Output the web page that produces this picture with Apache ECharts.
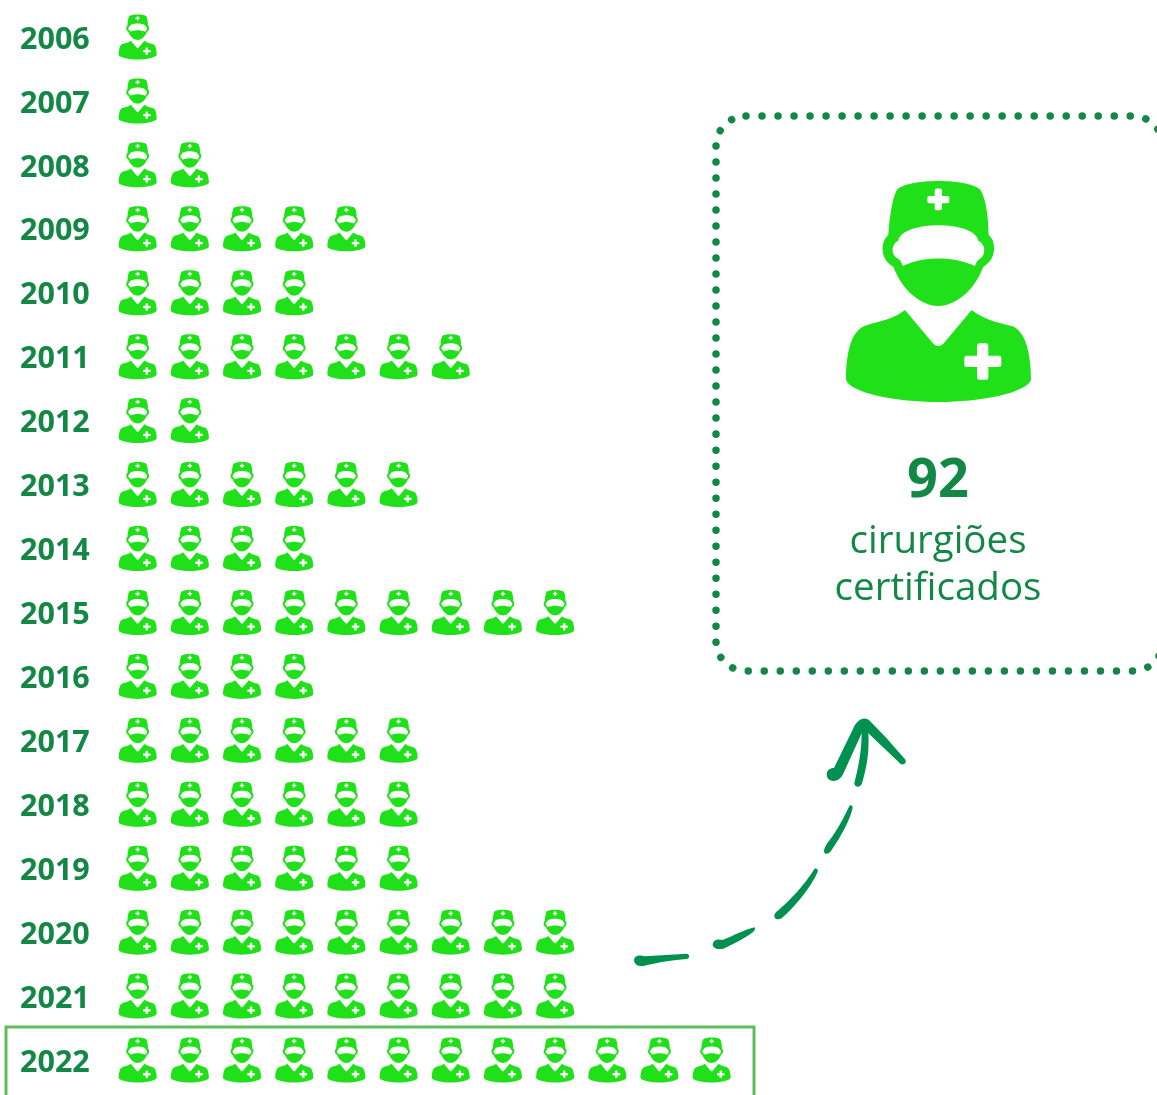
<!DOCTYPE html>
<html lang="pt">
<head>
	<meta charset="UTF-8">
	<style>
		html,body{margin:0;padding:0;background:#fff;overflow:hidden;}
	</style>
</head>
<body>
<div id="chart" style="width:1157px;height:1095px;"></div>

<script src="https://cdn.jsdelivr.net/npm/echarts@6/dist/echarts.min.js"></script>
<script>
  var years=['2006','2007','2008','2009','2010','2011','2012','2013','2014','2015','2016','2017','2018','2019','2020','2021','2022'];
  var surgeons=[1,1,2,5,4,7,2,6,4,9,4,6,6,6,9,9,12];
  var totalLabel='92';
  var captionLines=['cirurgiões','certificados'];

  var GREEN='#20e01a';
  var DARK='#138846';
  var ARROW='#009150';

  // surgeon icon, drawn in a 660x720 box. holes wind the other way round
  var body='M225,420 L310,522 Q325,537 340,522 L425,420 C470,455 520,460 550,470 C590,490 603,560 603,630 C590,670 450,697 325,697 C200,697 60,670 48,630 C48,560 60,490 100,470 C130,455 180,455 225,420 Z '+
    'M441,527 L441,558 L410,558 Q403,558 403,565 L403,585 Q403,592 410,592 L441,592 L441,623 Q441,630 448,630 L468,630 Q475,630 475,623 L475,592 L507,592 Q514,592 514,585 L514,565 Q514,558 507,558 L475,558 L475,527 Q475,520 468,520 L448,520 Q441,520 441,527 Z ';
  var head='M200,60 C230,23 420,23 452,60 C470,90 475,150 476,195 C500,215 500,270 460,290 C430,370 370,408 325,408 C280,408 220,370 190,290 C150,270 150,215 175,195 C178,150 185,90 200,60 Z '+
    'M205,212 C185,220 182,250 198,262 C210,268 215,275 218,288 C280,258 370,258 435,288 C438,275 445,268 455,262 C468,250 465,220 445,212 C435,150 215,150 205,212 Z '+
    'M314,62 L314,77 L298,77 Q292,77 292,83 L292,93 Q292,99 298,99 L314,99 L314,114 Q314,120 320,120 L330,120 Q336,120 336,114 L336,99 L352,99 Q358,99 358,93 L358,83 Q358,77 352,77 L336,77 L336,62 Q336,55 330,55 L320,55 Q314,55 314,62 Z';
  var iconPath=body+head;

  // hand drawn arrow, coords are 3x page px from (620,700)
  var arrowPaths=[
    'M42,780 C45,765 60,765 75,769 L200,761 C210,762 210,775 200,777 C160,780 110,788 70,798 C55,800 42,793 42,780 Z',
    'M278,733 C280,718 295,716 308,720 C340,708 370,690 403,682 C407,684 405,692 400,695 C375,715 340,732 310,746 C292,750 278,745 278,733 Z',
    'M463,650 C462,642 468,636 475,631 C510,600 550,560 583,507 C590,503 595,510 593,516 C570,565 530,615 485,655 C475,660 465,658 463,650 Z',
    'M612,452 C615,435 630,420 640,405 C660,375 675,345 688,318 C692,313 699,317 698,323 C690,360 665,405 635,450 C625,465 612,465 612,452 Z',
    'M620,222 C622,208 632,204 642,204 L700,85 C710,60 735,45 752,65 L800,115 L855,178 C862,188 852,197 842,192 L745,100 C748,150 742,200 725,253 C718,265 702,260 703,248 C715,205 725,150 725,100 L668,225 C655,250 620,248 620,222 Z'
  ];

  var chart=echarts.init(document.getElementById('chart'));

  var option={
    animation:false,
    grid:{left:111.6,top:8,width:626.16,height:1088},
    xAxis:{type:'value',min:0,max:12,show:false},
    yAxis:{
      type:'category',
      data:years,
      inverse:true,
      axisLine:{show:false},
      axisTick:{show:false},
      axisLabel:{
        margin:91.6,
        align:'left',
        color:DARK,
        fontFamily:'Open Sans',
        fontWeight:'bold',
        fontSize:30.5
      }
    },
    graphic:[
      // highlight of the last year, runs off the bottom of the page
      {type:'rect',shape:{x:6,y:1027,width:748,height:90},style:{fill:'none',stroke:'#5cbf5c',lineWidth:3}},
      // dotted panel
      {type:'rect',shape:{x:716,y:116,width:447,height:555,r:30},
        style:{fill:'none',stroke:DARK,lineWidth:7.5,lineCap:'round',lineDash:[0.01,16]}},
      {type:'text',x:938,y:482,style:{text:totalLabel,fill:DARK,font:'bold 54px "Open Sans"',textAlign:'center',textVerticalAlign:'middle'}},
      {type:'text',x:938,y:542,style:{text:captionLines[0],fill:DARK,font:'38.5px "Open Sans"',textAlign:'center',textVerticalAlign:'middle'}},
      {type:'text',x:938,y:589,style:{text:captionLines[1],fill:DARK,font:'38.5px "Open Sans"',textAlign:'center',textVerticalAlign:'middle'}}
    ],
    series:[
      {
        type:'pictorialBar',
        data:surgeons,
        symbol:'path://'+iconPath,
        symbolSize:[38,45],
        symbolRepeat:true,
        symbolMargin:'7.09!',
        symbolPosition:'start',
        symbolOffset:[0,-3],
        itemStyle:{color:GREEN},
        silent:true
      },
      {
        // big icon and the arrow, graphic component has no free path type
        type:'custom',
        coordinateSystem:'none',
        data:[0],
        silent:true,
        renderItem:function(){
          var children=[{
            type:'path',
            shape:{pathData:iconPath,x:846,y:181,width:185,height:221,layout:'cover'},
            style:{fill:GREEN}
          }];
          arrowPaths.forEach(function(d){
            children.push({
              type:'path',
              x:620,y:700,scaleX:1/3,scaleY:1/3,
              shape:{pathData:d},
              style:{fill:ARROW}
            });
          });
          return {type:'group',children:children};
        }
      }
    ]
  };
  chart.setOption(option);
</script>
</body>
</html>
